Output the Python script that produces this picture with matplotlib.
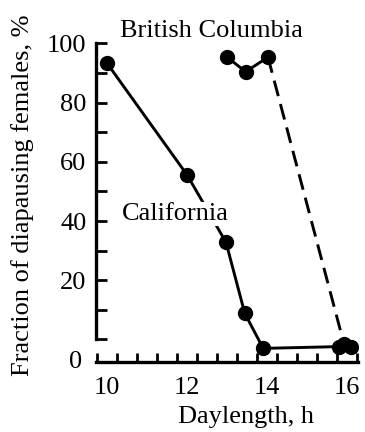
import matplotlib
matplotlib.use("Agg")
import matplotlib.pyplot as plt
import numpy as np

# Data
cal_x = [10.0, 12.0, 12.97, 13.44, 13.9, 15.8, 16.1]
cal_y = [93.2, 55.5, 32.8, 8.8, -3.0, -2.4, -2.6]
bc_x = [13.0, 13.46, 14.02]
bc_y = [95.3, 90.4, 95.3]
bc_drop_x = [14.02, 15.92]
bc_drop_y = [95.3, -1.5]

x_ticklabels = ["10", "12", "14", "16"]
x_ticks = [10, 12, 14, 16]
y_ticks = [20, 40, 60, 80, 100]
y_ticklabels = ["20", "40", "60", "80", "100"]

plt.rcParams['font.family'] = ['Liberation Serif', 'DejaVu Serif']

W, H = 365, 432
fig = plt.figure(figsize=(W / 100, H / 100), dpi=100)
ax = fig.add_axes([96 / W, 1 - 362 / H, (358 - 96) / W, (362 - 43.3) / H])

ax.set_xlim(9.72, 16.27)
ax.set_ylim(-7.6, 100)

lw = 2.1
ms = 10
ax.plot(cal_x, cal_y, color='black', lw=lw, marker='o', ms=ms, zorder=3)
ax.plot(bc_x, bc_y, color='black', lw=lw, marker='o', ms=ms, zorder=3)
ax.plot(bc_drop_x, bc_drop_y, color='black', lw=lw, dashes=(5.5, 2.8), zorder=2)
ax.plot(bc_drop_x[-1:], bc_drop_y[-1:], color='black', marker='o', ms=ms, lw=0, zorder=3)

for s in ['top', 'right']:
    ax.spines[s].set_visible(False)
ax.spines['left'].set_bounds(0, 100)
ax.spines['left'].set_linewidth(2.4)
ax.spines['bottom'].set_linewidth(2.4)

ax.set_xticks(x_ticks)
ax.set_xticklabels(x_ticklabels)
ax.set_xticks(np.arange(9.75, 16.3, 0.5), minor=True)
ax.set_yticks(y_ticks)
ax.set_yticklabels(y_ticklabels)
ax.set_yticks(np.arange(0, 101, 10), minor=True)

ax.tick_params(axis='x', which='major', length=0, pad=11, labelsize=19)
ax.tick_params(axis='x', which='minor', direction='in', length=6.5, width=2)
ax.tick_params(axis='y', which='major', direction='in', length=8, width=2, pad=7, labelsize=19)
ax.tick_params(axis='y', which='minor', direction='in', length=8, width=2)

fig.text(82 / W, 1 - 362 / H, "0", ha='right', va='center', fontsize=19)

fig.text(246 / W, 1 - 423 / H, "Daylength, h", ha='center', va='baseline', fontsize=19)
fig.text(23 / W, 1 - 195 / H, "Fraction of diapausing females, %", ha='center', va='center',
         rotation=90, fontsize=19)

fig.text(120 / W, 1 - 36.7 / H, "British Columbia", ha='left', va='baseline', fontsize=19)
ax.text(10.36, 40.3, "California", ha='left', va='baseline', fontsize=19, zorder=4,
        bbox=dict(facecolor='white', edgecolor='none', pad=0.5))

fig.savefig("out.png", dpi=100)
